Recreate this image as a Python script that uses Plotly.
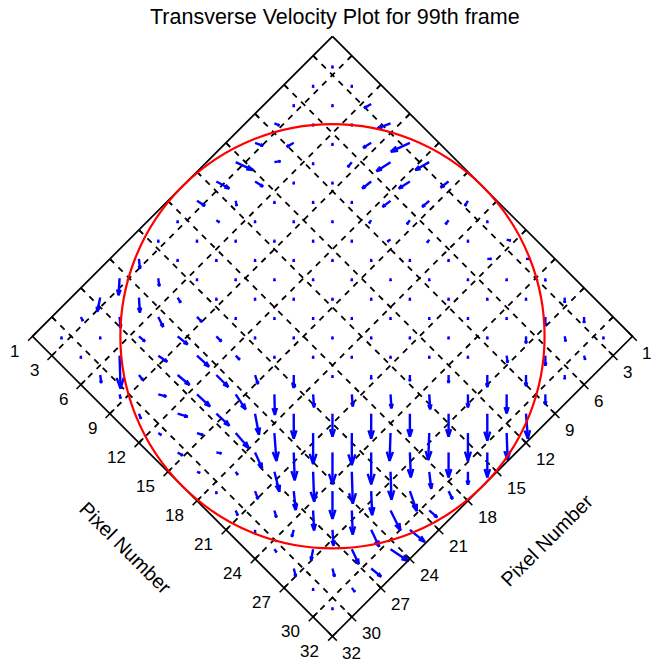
import plotly.graph_objects as go

# ---------------- data ----------------
title_text = "Transverse Velocity Plot for 99th frame"
axis_label = "Pixel Number"
tick_values = [1, 3, 6, 9, 12, 15, 18, 21, 24, 27, 30, 32]
grid_values = [3, 6, 9, 12, 15, 18, 21, 24, 27, 30]
pixel_min, pixel_max = 1, 32
arrow_pos = [2.5, 4.5, 6.5, 8.5, 10.5, 12.5, 14.5, 16.5, 18.5, 20.5, 22.5, 24.5, 26.5, 28.5, 30.5]
circle_center = 16.5
circle_radius = 15.5

# velocity component along the first pixel axis (rows = first-axis position, cols = second-axis position)
U = [
    [.14, .14, .14, .36, .57, 1.29, 1.03, .67, .14, .14, .57, .82, .57, .31, .14],
    [.14, .14, .14, -.15, .26, .67, .31, .26, .14, .14, .46, .82, .62, .14, .14],
    [-.15, .14, .14, .14, .14, .14, .14, .14, .14, .14, .41, .77, .57, 1.75, .46],
    [-.41, -.15, .05, .14, .14, .14, .14, .14, .14, .14, .52, .93, .77, .46, .26],
    [-.52, -.26, -.10, .14, .14, .14, .14, .14, .14, .14, .52, 1.19, 1.13, .52, .36],
    [-.31, -.21, -.10, .05, .14, .14, .14, .14, .14, .14, .41, 1.24, 1.29, .67, .26],
    [-.10, -.05, .05, -.05, .14, .14, .14, .14, .14, .14, .62, 1.29, 1.29, .41, .41],
    [.10, .05, .05, .14, .14, .14, .14, .14, .14, .67, 1.08, 1.29, 1.44, .31, .21],
    [.14, .14, .14, .14, .14, .14, .14, .14, .14, .72, 1.29, 1.55, 1.19, .26, .14],
    [.26, .21, .14, .14, .14, .14, .14, .21, .67, 1.19, 1.60, 1.49, 1.29, .57, .36],
    [.21, .14, .14, .14, .14, .14, .31, .77, 1.29, 1.65, 1.65, 1.60, 1.08, .46, .14],
    [.15, .14, .14, .14, .14, .41, .82, 1.19, 1.39, 1.65, 1.70, 1.44, 1.08, .26, .26],
    [.26, .46, .36, .41, .62, .67, 1.19, 1.34, 1.34, 1.49, 1.29, 1.29, .88, .46, .52],
    [.31, .31, .52, .57, .98, 1.39, 1.44, 1.29, .98, 1.39, 1.55, 1.29, 1.13, .52, .14],
    [.14, .26, .21, .52, 1.39, 1.44, 1.29, .67, .62, .77, 1.39, 1.55, .93, .36, .14],
]
# velocity component along the second pixel axis
V = [
    [.14, .14, .14, -.15, -.26, -.46, -.31, -.15, .14, .14, .46, .93, .88, .10, .14],
    [.14, .14, .14, .57, -.36, -.15, .21, -.05, .14, .14, .36, .72, .52, .14, .14],
    [.57, .14, .14, .14, .14, .14, .14, .14, .14, .14, .10, .26, -.05, 1.65, .36],
    [.93, .67, .46, .14, .14, .14, .14, .14, .14, .14, 0, -.10, -.15, .05, .15],
    [1.44, 1.19, .82, .14, .14, .14, .14, .14, .14, .14, 0, -.05, -.10, -.31, .15],
    [1.13, .93, .72, .26, .14, .14, .14, .14, .14, .14, 0, 0, -.05, -.36, -.05],
    [.72, .67, .36, .26, .14, .14, .14, .14, .14, .14, .31, .26, -.05, -.21, -.10],
    [.41, .36, .26, .14, .14, .14, .14, .14, .14, .67, 1.03, .88, .10, -.21, -.10],
    [.14, .14, .14, .14, .14, .14, .14, .14, .14, .62, 1.29, 1.34, .46, .05, .14],
    [-.15, -.21, .14, .14, .14, .14, .14, .21, .57, 1.19, 1.60, 1.39, .77, .26, .15],
    [-.21, .14, .14, .14, .14, .14, .31, .67, 1.29, 1.65, 1.65, 1.49, .88, .26, .14],
    [.15, .14, .14, .14, .14, .41, .72, 1.19, 1.49, 1.65, 1.60, 1.44, .98, .46, .05],
    [.26, .46, .36, .31, .62, .67, 1.19, 1.44, 1.24, 1.39, 1.19, 1.19, .77, .67, .31],
    [.31, .21, .52, .57, .98, 1.39, 1.44, 1.29, .77, .67, .52, .46, .41, .31, .14],
    [.14, .15, .21, .52, 1.19, 1.34, 1.29, .67, .21, -.05, -.15, -.31, -.10, .05, .14],
]

# ---------------- view (axes seen rotated by 45 degrees) ----------------
def view(a, b):
    return a - b, -(a + b)

FONT = "Liberation Sans, Arial, Helvetica, sans-serif"
fig = go.Figure()

# dashed grid
gx, gy = [], []
for g in grid_values:
    for p, q in [((g, pixel_min), (g, pixel_max)), ((pixel_min, g), (pixel_max, g))]:
        x0, y0 = view(*p)
        x1, y1 = view(*q)
        gx += [x0, x1, None]
        gy += [y0, y1, None]
fig.add_trace(go.Scatter(x=gx, y=gy, mode="lines", hoverinfo="skip",
                         line=dict(color="black", width=1.8, dash="6px,6px")))

# quiver arrows
alpha, beta = 0.33, 0.33
qx, qy = [], []
for i, a in enumerate(arrow_pos):
    for j, b in enumerate(arrow_pos):
        u, v = U[i][j], V[i][j]
        tx, ty = view(a, b)
        vx, vy = u - v, -(u + v)
        hx, hy = tx + vx, ty + vy
        h1 = (hx - alpha * (vx + beta * vy), hy - alpha * (vy - beta * vx))
        h2 = (hx - alpha * (vx - beta * vy), hy - alpha * (vy + beta * vx))
        qx += [tx, hx, None, h1[0], hx, h2[0], None]
        qy += [ty, hy, None, h1[1], hy, h2[1], None]
fig.add_trace(go.Scatter(x=qx, y=qy, mode="lines", hoverinfo="skip",
                         line=dict(color="#0000ff", width=2.4)))

# box outline
corners = [(pixel_min, pixel_min), (pixel_max, pixel_min), (pixel_max, pixel_max),
           (pixel_min, pixel_max), (pixel_min, pixel_min)]
bx = [view(*c)[0] for c in corners]
by = [view(*c)[1] for c in corners]
fig.add_trace(go.Scatter(x=bx, y=by, mode="lines", hoverinfo="skip",
                         line=dict(color="black", width=1.7)))

# tick marks
tx_, ty_ = [], []
for t in tick_values:
    segs = [((t, pixel_max - 0.45), (t, pixel_max + 0.45)),
            ((pixel_max - 0.45, t), (pixel_max + 0.45, t))]
    if pixel_min < t < pixel_max:
        segs += [((t, pixel_min), (t, pixel_min + 0.35)),
                 ((pixel_min, t), (pixel_min + 0.35, t))]
    for p, q in segs:
        x0, y0 = view(*p)
        x1, y1 = view(*q)
        tx_ += [x0, x1, None]
        ty_ += [y0, y1, None]
fig.add_trace(go.Scatter(x=tx_, y=ty_, mode="lines", hoverinfo="skip",
                         line=dict(color="black", width=1.5)))

# red circle
ccx, ccy = view(circle_center, circle_center)
rr = circle_radius * 2 ** 0.5
fig.add_shape(type="circle", xref="x", yref="y", x0=ccx - rr, x1=ccx + rr,
              y0=ccy - rr, y1=ccy + rr, line=dict(color="red", width=2.2), layer="above")

# tick labels
ann = []
for t in tick_values:
    x, y = view(t, pixel_max)
    ann.append(dict(x=x, y=y, xref="x", yref="y", text=str(t), showarrow=False,
                    xanchor="right", yanchor="middle", xshift=-11, yshift=-15,
                    font=dict(family=FONT, size=17, color="black")))
    x, y = view(pixel_max, t)
    ann.append(dict(x=x, y=y, xref="x", yref="y", text=str(t), showarrow=False,
                    xanchor="left", yanchor="middle", xshift=8, yshift=-17,
                    font=dict(family=FONT, size=17, color="black")))

# axis titles
ann.append(dict(x=-21.4, y=-54.9, xref="x", yref="y", text=axis_label, showarrow=False,
                textangle=45, font=dict(family=FONT, size=20, color="black")))
ann.append(dict(x=22.2, y=-54.1, xref="x", yref="y", text=axis_label, showarrow=False,
                textangle=-45, font=dict(family=FONT, size=20, color="black")))
# title
ann.append(dict(x=0.31, y=0.05, xref="x", yref="y", text=title_text, showarrow=False,
                xanchor="center", yanchor="middle",
                font=dict(family=FONT, size=21.5, color="black")))

fig.update_layout(
    width=651, height=664,
    margin=dict(l=2, r=2, t=2, b=2),
    paper_bgcolor="white", plot_bgcolor="white",
    showlegend=False,
    xaxis=dict(visible=False, range=[-34.15, 32.71], fixedrange=True),
    yaxis=dict(visible=False, range=[-66.66, 1.55], fixedrange=True),
    annotations=ann,
)

fig.write_html("out.html")
